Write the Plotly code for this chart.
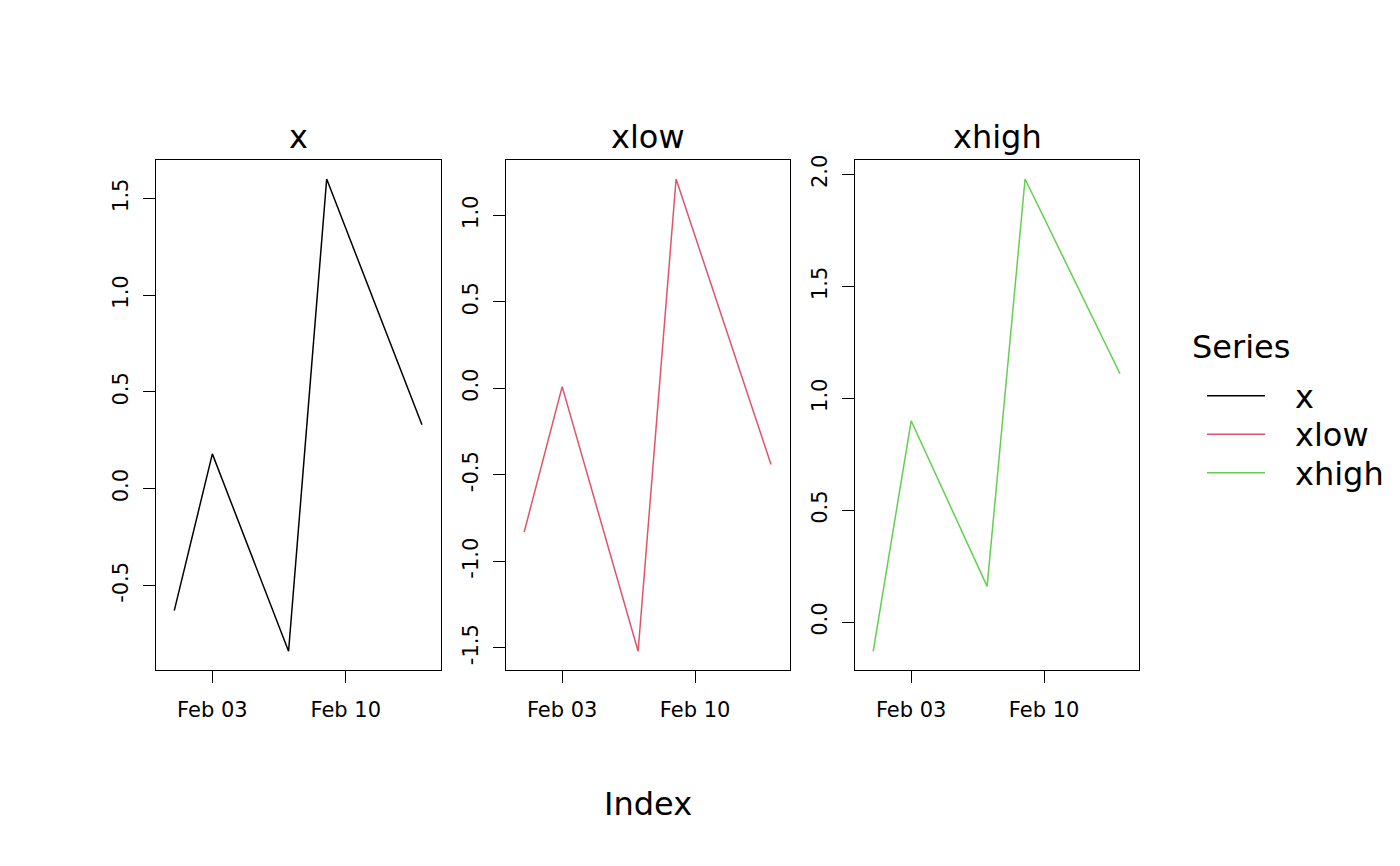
import plotly.graph_objects as go

# dates shared by all three panels
dates = ["2020-02-01", "2020-02-03", "2020-02-07", "2020-02-09", "2020-02-14"]

series_names = ["x", "xlow", "xhigh"]
x_vals = [-0.63, 0.18, -0.84, 1.60, 0.33]
xlow_vals = [-0.83, 0.01, -1.52, 1.21, -0.44]
xhigh_vals = [-0.13, 0.90, 0.16, 1.98, 1.11]
colors = ["#000000", "#DF536B", "#61D04F"]

x_tickvals = ["2020-02-03", "2020-02-10"]
x_ticktext = ["Feb 03", "Feb 10"]

y_tickvals = [
    [-0.5, 0.0, 0.5, 1.0, 1.5],
    [-1.5, -1.0, -0.5, 0.0, 0.5, 1.0],
    [0.0, 0.5, 1.0, 1.5, 2.0],
]
y_ticktext = [
    ["-0.5", "0.0", "0.5", "1.0", "1.5"],
    ["-1.5", "-1.0", "-0.5", "0.0", "0.5", "1.0"],
    ["0.0", "0.5", "1.0", "1.5", "2.0"],
]

W, H = 1400, 866
OFF = 8  # page body margin in the browser
FONT = "DejaVu Sans"


def px(v):
    return (v - OFF) / W


def py(v):
    return 1 - (v - OFF) / H


panels_px = [(156, 441), (506, 790), (855, 1139)]
top_px, bottom_px = 156, 669

fig = go.Figure()
all_vals = [x_vals, xlow_vals, xhigh_vals]

for i, (name, vals, col) in enumerate(zip(series_names, all_vals, colors)):
    n = "" if i == 0 else str(i + 1)
    fig.add_trace(go.Scatter(
        x=dates, y=vals, mode="lines", name=name,
        line=dict(color=col, width=1.5),
        xaxis="x" + n, yaxis="y" + n, showlegend=False,
    ))
    lo, hi = min(vals), max(vals)
    pad = (hi - lo) * 0.04
    x0, x1 = panels_px[i]
    dom_x = [px(x0), px(x1)]
    dom_y = [py(bottom_px), py(top_px)]
    axis_common = dict(
        showline=True, mirror=True, linecolor="black", linewidth=1.3,
        ticks="outside", ticklen=12, tickwidth=1.3, tickcolor="black",
        showgrid=False, zeroline=False,
        tickfont=dict(family=FONT, size=21, color="black"),
    )
    fig.layout["xaxis" + n] = dict(
        axis_common, type="date", domain=dom_x, anchor="y" + n,
        range=["2020-01-31 01:00", "2020-02-15"],
        tickvals=x_tickvals, ticktext=x_ticktext, ticklabelstandoff=8,
    )
    fig.layout["yaxis" + n] = dict(
        axis_common, domain=dom_y, anchor="x" + n,
        range=[lo - pad, hi + pad],
        tickvals=y_tickvals[i], ticktext=y_ticktext[i],
        tickangle=-90, ticklabelstandoff=6,
    )
    fig.add_annotation(
        text=name, x=(px(x0) + px(x1)) / 2, y=dom_y[1], xref="paper", yref="paper",
        xanchor="center", yanchor="bottom", yshift=2, showarrow=False,
        font=dict(family=FONT, size=32, color="black"),
    )

    # legend entry drawn by hand, R style
    ly = 393 + i * 38.7
    fig.add_shape(
        type="line", xref="paper", yref="paper",
        x0=px(1207), x1=px(1265), y0=py(ly), y1=py(ly),
        line=dict(color=col, width=1.5),
    )
    fig.add_annotation(
        text=name, x=px(1293), y=py(ly + 1), xref="paper", yref="paper",
        xanchor="left", yanchor="middle", showarrow=False,
        font=dict(family=FONT, size=32, color="black"),
    )

fig.add_annotation(
    text="Series", x=px(1190), y=py(344), xref="paper", yref="paper",
    xanchor="left", yanchor="middle", showarrow=False,
    font=dict(family=FONT, size=32, color="black"),
)

fig.add_annotation(
    text="Index", x=(px(panels_px[0][0]) + px(panels_px[2][1])) / 2, y=py(804),
    xref="paper", yref="paper", xanchor="center", yanchor="middle",
    showarrow=False, font=dict(family=FONT, size=32, color="black"),
)

fig.update_layout(
    width=W, height=H,
    margin=dict(l=0, r=0, t=0, b=0),
    paper_bgcolor="white", plot_bgcolor="white",
    font=dict(family=FONT, color="black"),
    showlegend=False,
)

fig.write_html("out.html")
